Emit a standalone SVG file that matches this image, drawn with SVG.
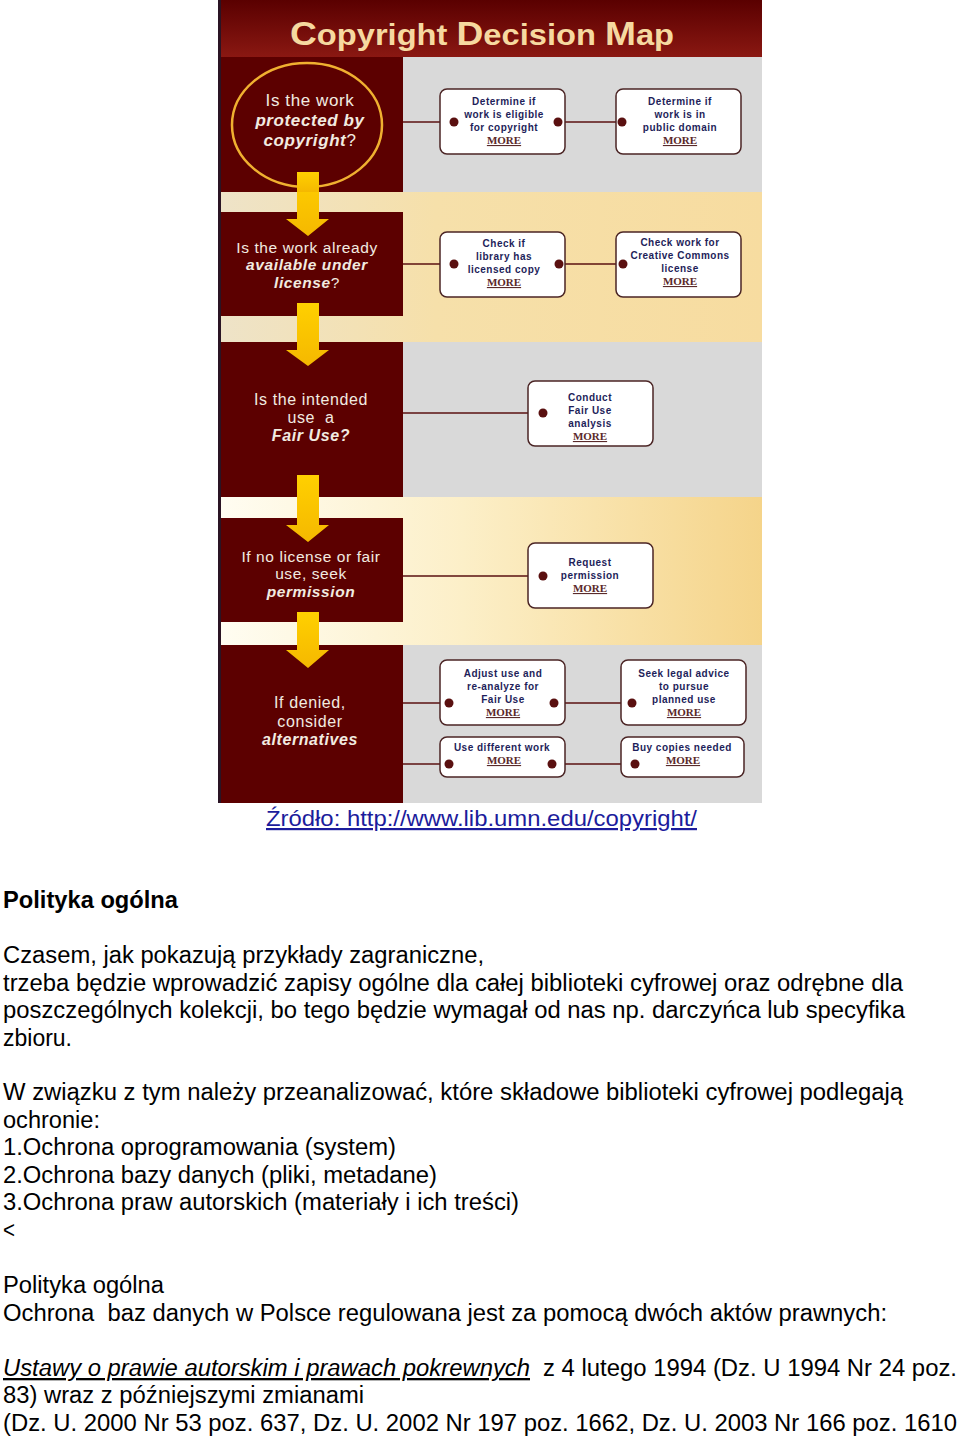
<svg xmlns="http://www.w3.org/2000/svg" width="960" height="1439" viewBox="0 0 960 1439">
<defs>
<linearGradient id="gTitle" x1="0" y1="0" x2="0" y2="1">
<stop offset="0" stop-color="#5a0000"/>
<stop offset="1" stop-color="#8a1812"/>
</linearGradient>
<linearGradient id="gCream" x1="0" y1="0" x2="1" y2="0">
<stop offset="0" stop-color="#eee3c8"/>
<stop offset="0.4" stop-color="#f6e0aa"/>
<stop offset="1" stop-color="#f7dca0"/>
</linearGradient>
<linearGradient id="gLight" x1="0" y1="0" x2="1" y2="0">
<stop offset="0" stop-color="#fffdf2"/>
<stop offset="0.45" stop-color="#fcefc8"/>
<stop offset="1" stop-color="#f5d48a"/>
</linearGradient>
<linearGradient id="gArrow" x1="0" y1="0" x2="0" y2="1">
<stop offset="0" stop-color="#ffd000"/>
<stop offset="1" stop-color="#f5b800"/>
</linearGradient>
<style>
.bx{fill:#ffffff;stroke:#4b2525;stroke-width:1.5}
.dark{fill:#5c0000}
.gray{fill:#d9d9d9}
.bt{font-family:"Liberation Sans",Arial,sans-serif;font-weight:bold;font-size:10px;letter-spacing:0.5px;fill:#1e1e5a;text-anchor:middle}
.mr{font-family:"Liberation Serif","Times New Roman",serif;font-weight:bold;font-size:11px;fill:#5a2a2a;text-decoration:underline;text-anchor:middle}
.lt{font-family:"Liberation Sans",Arial,sans-serif;fill:#f2ebe0;text-anchor:middle;letter-spacing:0.6px}
.bi{font-weight:bold;font-style:italic}
.ln{stroke:#5a1010;stroke-width:1.5;fill:none}
.dt{fill:#5a1010}
.arr{fill:url(#gArrow)}
.body{font-family:"Liberation Sans",Arial,sans-serif;font-size:23px;fill:#000000}
</style>
</defs>

<!-- backgrounds -->
<g id="background">
<rect x="218" y="0" width="544" height="57" fill="url(#gTitle)"/>
<rect x="403" y="57" width="359" height="135" class="gray"/>
<rect x="218" y="192" width="544" height="150" fill="url(#gCream)"/>
<rect x="218" y="342" width="544" height="155" class="gray"/>
<rect x="218" y="497" width="544" height="148" fill="url(#gLight)"/>
<rect x="218" y="645" width="544" height="158" class="gray"/>
<rect x="218" y="57" width="185" height="135" class="dark"/>
<rect x="218" y="212" width="185" height="104" class="dark"/>
<rect x="218" y="342" width="185" height="155" class="dark"/>
<rect x="218" y="518" width="185" height="104" class="dark"/>
<rect x="218" y="645" width="185" height="158" class="dark"/>
<rect x="218" y="0" width="3" height="803" fill="#2a1424"/>
</g>

<g id="title">
<text x="290" y="45" textLength="384" lengthAdjust="spacingAndGlyphs" font-family="'Liberation Sans',Arial,sans-serif" font-weight="bold" font-size="29" fill="#f6d9a0"><tspan font-size="33">C</tspan>opyright <tspan font-size="33">D</tspan>ecision <tspan font-size="33">M</tspan>ap</text>
</g>

<!-- arrows -->
<g id="arrows">
<path class="arr" d="M297,172 H319 V219 H329 L308,236 L286,219 H297 Z"/>
<path class="arr" d="M297,303 H319 V350 H329 L308,366 L286,350 H297 Z"/>
<path class="arr" d="M297,475 H319 V525 H329 L308,542 L286,525 H297 Z"/>
<path class="arr" d="M297,612 H319 V650 H329 L308,668 L286,650 H297 Z"/>
</g>

<!-- connectors -->
<g id="connectors">
<line class="ln" x1="403" y1="122" x2="454" y2="122"/>
<line class="ln" x1="558" y1="122" x2="622" y2="122"/>
<line class="ln" x1="403" y1="264" x2="454" y2="264"/>
<line class="ln" x1="559" y1="264" x2="623" y2="264"/>
<line class="ln" x1="403" y1="413" x2="543" y2="413"/>
<line class="ln" x1="403" y1="576" x2="543" y2="576"/>
<line class="ln" x1="403" y1="703" x2="449" y2="703"/>
<line class="ln" x1="554" y1="703" x2="632" y2="703"/>
<line class="ln" x1="403" y1="764" x2="449" y2="764"/>
<line class="ln" x1="552" y1="764" x2="635" y2="764"/>
</g>

<!-- left decision nodes -->
<g id="q1">
<ellipse cx="307" cy="125" rx="75" ry="62" fill="#5c0000" stroke="#f0b030" stroke-width="2.5"/>
<text class="lt" x="310" y="106" font-size="17">Is the work</text>
<text class="lt" x="310" y="126" font-size="17"><tspan class="bi">protected by</tspan></text>
<text class="lt" x="310" y="146" font-size="17"><tspan class="bi">copyright</tspan>?</text>
</g>
<path class="arr" d="M297,172 H319 V192 H297 Z"/>
<g id="q2">
<text class="lt" x="307" y="253" font-size="15.5">Is the work already</text>
<text class="lt" x="307" y="270" font-size="15.5"><tspan class="bi">available under</tspan></text>
<text class="lt" x="307" y="288" font-size="15.5"><tspan class="bi">license</tspan>?</text>
</g>
<g id="q3">
<text class="lt" x="311" y="405" font-size="16">Is the intended</text>
<text class="lt" x="311" y="423" font-size="16" style="white-space:pre">use  a</text>
<text class="lt" x="311" y="441" font-size="16"><tspan class="bi">Fair Use?</tspan></text>
</g>
<g id="q4">
<text class="lt" x="311" y="562" font-size="15.5">If no license or fair</text>
<text class="lt" x="311" y="579" font-size="15.5">use, seek</text>
<text class="lt" x="311" y="597" font-size="15.5"><tspan class="bi">permission</tspan></text>
</g>
<g id="q5">
<text class="lt" x="310" y="708" font-size="16">If denied,</text>
<text class="lt" x="310" y="727" font-size="16">consider</text>
<text class="lt" x="310" y="745" font-size="16"><tspan class="bi">alternatives</tspan></text>
</g>

<!-- action boxes -->
<g id="boxA">
<rect class="bx" x="440" y="89" width="125" height="65" rx="7"/>
<text class="bt" x="504" y="105">Determine if</text>
<text class="bt" x="504" y="118">work is eligible</text>
<text class="bt" x="504" y="131">for copyright</text>
<text class="mr" x="504" y="144">MORE</text>
</g>
<g id="boxB">
<rect class="bx" x="616" y="89" width="125" height="65" rx="7"/>
<text class="bt" x="680" y="105">Determine if</text>
<text class="bt" x="680" y="118">work is in</text>
<text class="bt" x="680" y="131">public domain</text>
<text class="mr" x="680" y="144">MORE</text>
</g>
<g id="boxC">
<rect class="bx" x="440" y="232" width="125" height="65" rx="7"/>
<text class="bt" x="504" y="247">Check if</text>
<text class="bt" x="504" y="260">library has</text>
<text class="bt" x="504" y="273">licensed copy</text>
<text class="mr" x="504" y="286">MORE</text>
</g>
<g id="boxD">
<rect class="bx" x="616" y="232" width="125" height="65" rx="7"/>
<text class="bt" x="680" y="246">Check work for</text>
<text class="bt" x="680" y="259">Creative Commons</text>
<text class="bt" x="680" y="272">license</text>
<text class="mr" x="680" y="285">MORE</text>
</g>
<g id="boxE">
<rect class="bx" x="528" y="381" width="125" height="65" rx="7"/>
<text class="bt" x="590" y="401">Conduct</text>
<text class="bt" x="590" y="414">Fair Use</text>
<text class="bt" x="590" y="427">analysis</text>
<text class="mr" x="590" y="440">MORE</text>
</g>
<g id="boxF">
<rect class="bx" x="528" y="543" width="125" height="65" rx="7"/>
<text class="bt" x="590" y="566">Request</text>
<text class="bt" x="590" y="579">permission</text>
<text class="mr" x="590" y="592">MORE</text>
</g>
<g id="boxG">
<rect class="bx" x="440" y="660" width="125" height="65" rx="7"/>
<text class="bt" x="503" y="677">Adjust use and</text>
<text class="bt" x="503" y="690">re-analyze for</text>
<text class="bt" x="503" y="703">Fair Use</text>
<text class="mr" x="503" y="716">MORE</text>
</g>
<g id="boxH">
<rect class="bx" x="621" y="660" width="125" height="65" rx="7"/>
<text class="bt" x="684" y="677">Seek legal advice</text>
<text class="bt" x="684" y="690">to pursue</text>
<text class="bt" x="684" y="703">planned use</text>
<text class="mr" x="684" y="716">MORE</text>
</g>
<g id="boxI">
<rect class="bx" x="440" y="737" width="125" height="40" rx="7"/>
<text class="bt" x="502" y="751">Use different work</text>
<text class="mr" x="504" y="764">MORE</text>
</g>
<g id="boxJ">
<rect class="bx" x="621" y="737" width="123" height="40" rx="7"/>
<text class="bt" x="682" y="751">Buy copies needed</text>
<text class="mr" x="683" y="764">MORE</text>
</g>

<!-- connector dots -->
<g id="dots">
<circle class="dt" cx="454" cy="122" r="4.5"/>
<circle class="dt" cx="558" cy="122" r="4.5"/>
<circle class="dt" cx="622" cy="122" r="4.5"/>
<circle class="dt" cx="454" cy="264" r="4.5"/>
<circle class="dt" cx="559" cy="264" r="4.5"/>
<circle class="dt" cx="623" cy="264" r="4.5"/>
<circle class="dt" cx="543" cy="413" r="4.5"/>
<circle class="dt" cx="543" cy="576" r="4.5"/>
<circle class="dt" cx="449" cy="703" r="4.5"/>
<circle class="dt" cx="554" cy="703" r="4.5"/>
<circle class="dt" cx="632" cy="703" r="4.5"/>
<circle class="dt" cx="449" cy="764" r="4.5"/>
<circle class="dt" cx="552" cy="764" r="4.5"/>
<circle class="dt" cx="635" cy="764" r="4.5"/>
</g>

<!-- caption -->
<text x="266" y="826" textLength="431" lengthAdjust="spacingAndGlyphs" font-family="'Liberation Sans',Arial,sans-serif" font-size="22" fill="#1c1c9c" text-decoration="underline">Źródło: http://www.lib.umn.edu/copyright/</text>

<!-- body text -->
<g id="bodytext" class="body">
<text x="3" y="908" font-weight="bold" textLength="175" lengthAdjust="spacingAndGlyphs">Polityka ogólna</text>
<text x="3" y="963" textLength="481" lengthAdjust="spacingAndGlyphs">Czasem, jak pokazują przykłady zagraniczne,</text>
<text x="3" y="991" textLength="900" lengthAdjust="spacingAndGlyphs">trzeba będzie wprowadzić zapisy ogólne dla całej biblioteki cyfrowej oraz odrębne dla</text>
<text x="3" y="1018" textLength="902" lengthAdjust="spacingAndGlyphs">poszczególnych kolekcji, bo tego będzie wymagał od nas np. darczyńca lub specyfika</text>
<text x="3" y="1046" textLength="69" lengthAdjust="spacingAndGlyphs">zbioru.</text>
<text x="3" y="1100" textLength="900" lengthAdjust="spacingAndGlyphs">W związku z tym należy przeanalizować, które składowe biblioteki cyfrowej podlegają</text>
<text x="3" y="1128" textLength="97" lengthAdjust="spacingAndGlyphs">ochronie:</text>
<text x="3" y="1155" textLength="393" lengthAdjust="spacingAndGlyphs">1.Ochrona oprogramowania (system)</text>
<text x="3" y="1183" textLength="434" lengthAdjust="spacingAndGlyphs">2.Ochrona bazy danych (pliki, metadane)</text>
<text x="3" y="1210" textLength="516" lengthAdjust="spacingAndGlyphs">3.Ochrona praw autorskich (materiały i ich treści)</text>
<text x="3" y="1238" textLength="12" lengthAdjust="spacingAndGlyphs">&lt;</text>
<text x="3" y="1293" textLength="161" lengthAdjust="spacingAndGlyphs">Polityka ogólna</text>
<text x="3" y="1321" textLength="884" lengthAdjust="spacingAndGlyphs" style="white-space:pre">Ochrona  baz danych w Polsce regulowana jest za pomocą dwóch aktów prawnych:</text>
<text x="3" y="1376" textLength="527" lengthAdjust="spacingAndGlyphs" font-style="italic" text-decoration="underline">Ustawy o prawie autorskim i prawach pokrewnych</text>
<text x="543" y="1376" textLength="414" lengthAdjust="spacingAndGlyphs">z 4 lutego 1994 (Dz. U 1994 Nr 24 poz.</text>
<text x="3" y="1403" textLength="361" lengthAdjust="spacingAndGlyphs">83) wraz z późniejszymi zmianami</text>
<text x="3" y="1431" textLength="954" lengthAdjust="spacingAndGlyphs">(Dz. U. 2000 Nr 53 poz. 637, Dz. U. 2002 Nr 197 poz. 1662, Dz. U. 2003 Nr 166 poz. 1610</text>
</g>
</svg>
